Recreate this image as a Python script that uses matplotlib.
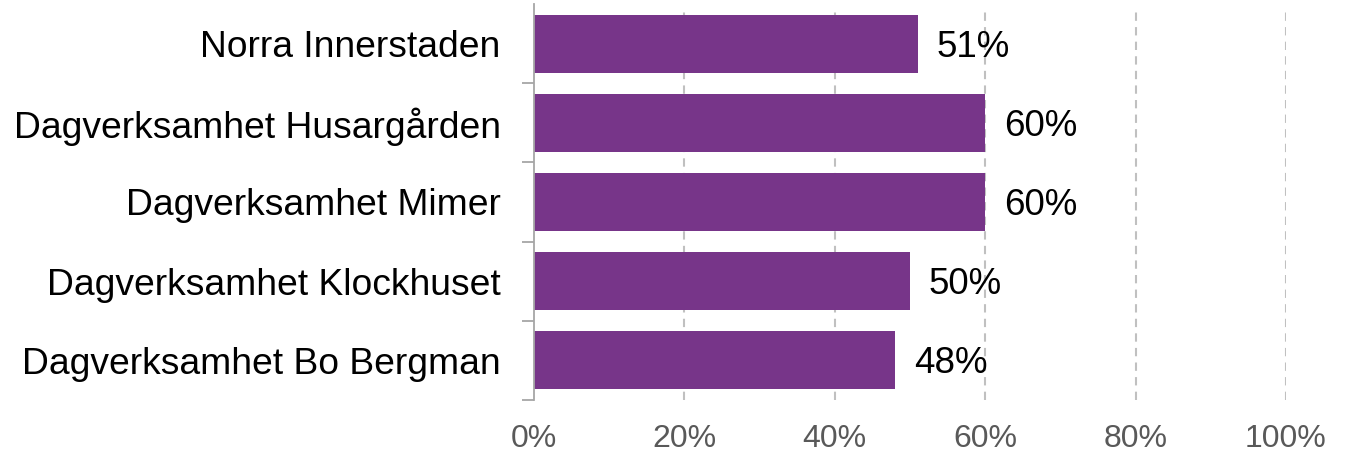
import matplotlib

matplotlib.use("Agg")
import matplotlib.pyplot as plt
import numpy as np

plt.rcParams["font.family"] = ["Liberation Sans", "DejaVu Sans"]

# Data (top to bottom)
categories = [
    "Norra Innerstaden",
    "Dagverksamhet Husargården",
    "Dagverksamhet Mimer",
    "Dagverksamhet Klockhuset",
    "Dagverksamhet Bo Bergman",
]
values = [51, 60, 60, 50, 48]
xticks = [0, 20, 40, 60, 80, 100]

BAR_COLOR = "#773589"
GRID_COLOR = "#c0c0c0"
AXIS_COLOR = "#a6a6a6"

fig = plt.figure(figsize=(13.45, 4.54), dpi=100)
ax = fig.add_axes([534 / 1345, 1 - 400 / 454, 752 / 1345, 396 / 454])

y = np.arange(len(categories))[::-1]
ax.barh(y, values, height=0.73, color=BAR_COLOR, zorder=2)
for yi, v in zip(y, values):
    ax.text(v + 2.5, yi - 0.045, f"{v}%", va="center", ha="left",
            fontsize=26.5, color="black", zorder=5)

ax.set_xlim(0, 100)
ax.set_ylim(-0.5, len(categories) - 0.5)
ax.set_xticks(xticks)
ax.set_xticklabels([f"{t}%" for t in xticks], fontsize=23, color="#595959")
ax.tick_params(axis="x", length=0, pad=17)
for t in xticks[1:]:
    ax.axvline(t, ymax=0.99, color=GRID_COLOR, lw=1.5, ls=(0, (4, 3)), zorder=1)

ax.set_yticks(y)
ax.set_yticklabels(categories, fontsize=26.8)
ax.tick_params(axis="y", which="major", length=0, pad=24)
ax.set_yticks(np.arange(-0.5, len(categories) - 1), minor=True)
ax.tick_params(axis="y", which="minor", length=9, width=1.3, color=AXIS_COLOR)

for s in ("top", "right", "bottom"):
    ax.spines[s].set_visible(False)
ax.spines["left"].set_color(AXIS_COLOR)
ax.spines["left"].set_linewidth(1.3)
ax.spines["left"].set_zorder(4)

fig.savefig("out.png", dpi=100)
